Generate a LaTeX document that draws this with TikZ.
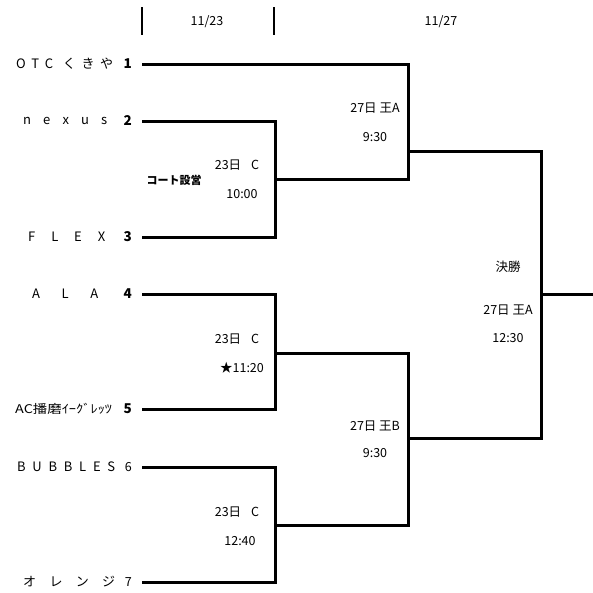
\documentclass[tikz,border=0pt]{standalone}
\usepackage{fontspec}
\setmainfont{Noto Sans CJK JP}
\newcommand{\spreadname}[2]{\makebox[#1][s]{#2}}
\tikzset{
  team/.style={anchor=west, inner sep=0pt, font=\fontsize{13}{13}\selectfont},
  seed/.style={anchor=east, inner xsep=10pt, inner ysep=0pt, font=\fontsize{13.5}{13.5}\selectfont\bfseries},
  seedlight/.style={seed, font=\fontsize{12.5}{12.5}\selectfont},
  info/.style={inner sep=0pt, font=\fontsize{12.5}{13}\selectfont},
  datetick/.style={line width=2pt},
  bracket/.style={line width=3pt}
}
\begin{document}
\begin{tikzpicture}[x=1pt,y=-1pt]
\useasboundingbox (0,0) rectangle (593,592);
% date header
\draw[datetick] (142,7) -- (142,35);
\draw[datetick] (274,7) -- (274,35);
\node[info] (d1) at (207,22) {11/23};
\node[info] (d2) at (441,22) {11/27};

% teams
\node[seed] (s1) at (142,64) {1};
\node[seed] (s2) at (142,121) {2};
\node[seed] (s3) at (142,237) {3};
\node[seed] (s4) at (142,294) {4};
\node[seed] (s5) at (142,409) {5};
\node[seedlight] (s6) at (142,467) {6};
\node[seedlight] (s7) at (142,582) {7};
\node[team] (n1) at (16,64) {\spreadname{97pt}{O\hfill T\hfill C\hfill\hspace{4pt}く\hfill き\hfill や}};
\node[team] (n2) at (23,121) {\spreadname{84pt}{n\hfill e\hfill x\hfill u\hfill s}};
\node[team] (n3) at (28,237) {\spreadname{77pt}{F\hfill L\hfill E\hfill X}};
\node[team] (n4) at (32,294) {\spreadname{66pt}{A\hfill L\hfill A}};
\node[team, font=\fontsize{12}{12}\selectfont] (n5) at (15,409) {\scalebox{1.2}[1]{AC播磨ｲｰｸﾞﾚｯﾂ}};
\node[team] (n6) at (17,467) {\spreadname{98pt}{B\hfill U\hfill B\hfill B\hfill L\hfill E\hfill S}};
\node[team] (n7) at (23,582) {\spreadname{92pt}{オ\hfill レ\hfill ン\hfill ジ}};

% junctions
\coordinate (m23) at (275,179);
\coordinate (m45) at (275,353);
\coordinate (m67) at (275,525);
\coordinate (sfA) at (408,151);
\coordinate (sfB) at (408,438);
\coordinate (fin) at (541,294);
\coordinate (champ) at (593,294);

% bracket
\draw[bracket] (s2.east) -| (m23);
\draw[bracket] (s3.east) -| (m23);
\draw[bracket] (s4.east) -| (m45);
\draw[bracket] (s5.east) -| (m45);
\draw[bracket] (s6.east) -| (m67);
\draw[bracket] (s7.east) -| (m67);
\draw[bracket] (s1.east) -| (sfA);
\draw[bracket] (m23) -| (sfA);
\draw[bracket] (m45) -| (sfB);
\draw[bracket] (m67) -| (sfB);
\draw[bracket] (sfA) -| (fin);
\draw[bracket] (sfB) -| (fin);
\draw[bracket] (fin) -- (champ);

% match labels
\node[info] (c23) at (237,165) {23日\hspace{0.8em}C};
\node[info] (t23) at (242,194) {10:00};
\node[info, font=\fontsize{11}{11}\selectfont\bfseries] (setup) at (174,180) {コート設営};
\node[info] (c45) at (237,339) {23日\hspace{0.8em}C};
\node[info] (t45) at (242,368) {★11:20};
\node[info] (c67) at (237,512) {23日\hspace{0.8em}C};
\node[info] (t67) at (240,541) {12:40};
\node[info] (cA) at (375,108) {27日 王A};
\node[info] (tA) at (375,137) {9:30};
\node[info] (cB) at (375,426) {27日 王B};
\node[info] (tB) at (375,453) {9:30};
\node[info] (fl) at (508,267) {決勝};
\node[info] (cF) at (508,310) {27日 王A};
\node[info] (tF) at (508,338) {12:30};
\end{tikzpicture}
\end{document}
